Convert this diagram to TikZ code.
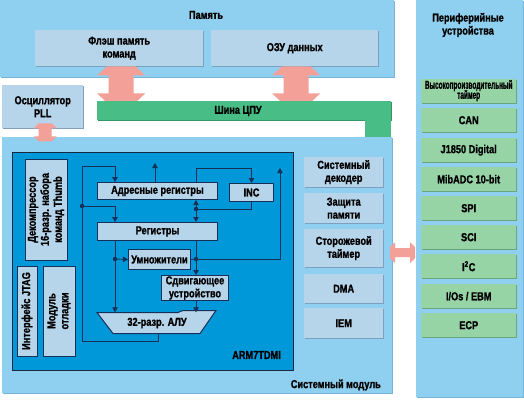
\documentclass[tikz,border=0pt]{standalone}
\usepackage{fontspec}
\setmainfont{Liberation Sans}[FakeStretch=0.8,BoldFeatures={FakeBold=1.2}]
\usetikzlibrary{arrows.meta,calc,shadows}
\definecolor{panelc}{RGB}{143,207,239}
\definecolor{panelsh}{RGB}{120,180,215}
\definecolor{boxc}{RGB}{183,213,234}
\definecolor{boxsh}{RGB}{125,160,190}
\definecolor{greenc}{RGB}{150,212,166}
\definecolor{greensh}{RGB}{105,165,125}
\definecolor{busc}{RGB}{72,190,134}
\definecolor{bussh}{RGB}{50,150,105}
\definecolor{corec}{RGB}{0,152,216}
\definecolor{coreb}{RGB}{25,40,65}
\definecolor{linec}{RGB}{22,48,88}
\definecolor{pinkc}{RGB}{243,160,152}
\newcommand\lblfont{\bfseries\fontsize{11.5}{13}\selectfont}
\newcommand\vblk[6]{\fill[pinkc] let \p1=(#1), \p2=(#2) in
 (\x1-#3,\y1) -- (\x1+#3,\y1) -- (\x1+#4,\y1-#6) -- (\x1+#5,\y1-#6) --
 (\x1+#5,\y2+#6) -- (\x1+#4,\y2+#6) -- (\x1+#3,\y2) -- (\x1-#3,\y2) --
 (\x1-#4,\y2+#6) -- (\x1-#5,\y2+#6) -- (\x1-#5,\y1-#6) -- (\x1-#4,\y1-#6) -- cycle;}
\newcommand\hblk[6]{\fill[pinkc] let \p1=(#1), \p2=(#2) in
 (\x1,\y1+#3) -- (\x1+#6,\y1+#4) -- (\x1+#6,\y1+#5) -- (\x2-#6,\y1+#5) --
 (\x2-#6,\y1+#4) -- (\x2,\y1+#3) -- (\x2,\y1-#3) -- (\x2-#6,\y1-#4) --
 (\x2-#6,\y1-#5) -- (\x1+#6,\y1-#5) -- (\x1+#6,\y1-#4) -- (\x1,\y1-#3) -- cycle;}
\begin{document}
\begin{tikzpicture}[x=1pt,y=-1pt,
 panel/.style={fill=panelc, inner sep=0pt, anchor=north west,
   drop shadow={shadow xshift=0.8pt,shadow yshift=-0.8pt,fill=panelsh,opacity=1}},
 lbox/.style={fill=boxc, inner sep=0pt, align=center, font=\lblfont, anchor=north west,
   drop shadow={shadow xshift=1pt,shadow yshift=-1pt,fill=boxsh,opacity=1}},
 cbox/.style={fill=boxc, draw=linec, line width=1pt, inner sep=0pt, align=center, font=\lblfont},
 gbox/.style={fill=greenc, inner sep=0pt, align=center, font=\lblfont, anchor=north west,
   minimum width=95pt, minimum height=24pt,
   drop shadow={shadow xshift=1pt,shadow yshift=-1pt,fill=greensh,opacity=1}},
 txt/.style={font=\lblfont, align=center, inner sep=0pt},
 conn/.style={draw=linec, line width=0.8pt},
 arr/.style={-{Triangle[length=5pt,width=5.5pt]}},
 dotc/.style={fill=linec}
]
\useasboundingbox (0,0) rectangle (524,400);
\fill[white] (0,0) rectangle (524,400);

% panels
\node[panel, minimum width=394pt, minimum height=77pt] (mem) at (0,0) {};
\node[panel, minimum width=107pt, minimum height=397pt] (periph) at (416,0) {};
\node[panel, minimum width=390pt, minimum height=256pt] (sysmod) at (2,137) {};
\node[lbox, minimum width=81pt, minimum height=43pt] (osc) at (2,85) {Осциллятор\\PLL};

\node[txt] (memlbl) at (206,15) {Память};
\node[txt] (perlbl) at (468,25) {Периферийные\\устройства};
\node[txt, anchor=east] (syslbl) at (381,385) {Системный модуль};

% memory boxes
\node[lbox, minimum width=168pt, minimum height=36pt] (flash) at (35,30) {Флэш память\\команд};
\node[lbox, minimum width=167pt, minimum height=36pt] (ozu) at (211,30) {ОЗУ данных};

% block arrows memory <-> bus
\coordinate (fa1) at ([xshift=2pt]flash.south);
\coordinate (fa2) at ([xshift=2pt,yshift=-36pt]flash.south);
\coordinate (oa1) at ([xshift=1.5pt]ozu.south);
\coordinate (oa2) at ([xshift=1.5pt,yshift=-36pt]ozu.south);
\vblk{fa1}{fa2}{14.5pt}{24pt}{12.5pt}{9pt}
\vblk{oa1}{oa2}{14.5pt}{24pt}{12.5pt}{9pt}

% bus
\node[fill=busc, inner sep=0pt, anchor=north west, minimum width=294pt, minimum height=19pt,
  drop shadow={shadow xshift=0.8pt,shadow yshift=-0.8pt,fill=bussh,opacity=1}] (bus) at (97,101) {};
\fill[busc] ([xshift=-26pt]bus.south east) rectangle (bus.south east |- sysmod.north);
\node[txt] (buslbl) at (238,111) {Шина ЦПУ};

% oscillator arrow
\coordinate (sa1) at ([xshift=2.5pt,yshift=5pt]osc.south);
\coordinate (sa2) at ([xshift=2.5pt,yshift=-13pt]osc.south);
\vblk{sa1}{sa2}{6.5pt}{11.5pt}{6.5pt}{5pt}

% peripheral boxes
\node[gbox] (hpt) at (421,79) {\scalebox{0.7}[1]{\begin{tabular}{@{}c@{}}Высокопроизводительный\\[-3pt]таймер\end{tabular}}};
\node[gbox] (can) at (421,108) {CAN};
\node[gbox] (j1850) at (421,138) {J1850 Digital};
\node[gbox] (mib) at (421,167) {MibADC 10-bit};
\node[gbox] (spi) at (421,196) {SPI};
\node[gbox] (sci) at (421,225) {SCI};
\node[gbox] (i2c) at (421,254) {I\textsuperscript{2}C};
\node[gbox] (ios) at (421,284) {I/Os / EBM};
\node[gbox] (ecp) at (421,313) {ECP};

% system module boxes
\node[lbox, minimum width=79pt, minimum height=30pt] (sdec) at (304,157) {Системный\\декодер};
\node[lbox, minimum width=79pt, minimum height=30pt] (mprot) at (304,193) {Защита\\памяти};
\node[lbox, minimum width=79pt, minimum height=38pt] (wdt) at (304,229) {Сторожевой\\таймер};
\node[lbox, minimum width=79pt, minimum height=29pt] (dma) at (304,274) {DMA};
\node[lbox, minimum width=79pt, minimum height=30pt] (iem) at (304,308) {IEM};

% horizontal arrow
\coordinate (ha1) at (390,252.5);
\coordinate (ha2) at (415,252.5);
\hblk{ha1}{ha2}{5.5pt}{10.5pt}{4.5pt}{5pt}

% ARM core
\node[fill=corec, draw=coreb, line width=1.2pt, inner sep=0pt, anchor=north west,
  minimum width=281pt, minimum height=218pt] (core) at (12,152) {};
\node[txt, anchor=east] (armlbl) at (281,355) {ARM7TDMI};

\node[cbox, rotate=90, minimum width=101pt, minimum height=42pt] (decomp) at (46,209.5) {Декомпрессор\\16-разр. набора\\команд Thumb};
\node[cbox, rotate=90, minimum width=90pt, minimum height=20pt] (jtag) at (27,311) {Интерфейс JTAG};
\node[cbox, rotate=90, minimum width=90pt, minimum height=32pt] (dbg) at (59,311) {Модуль\\отладки};

\node[cbox, anchor=north west, minimum width=120pt, minimum height=17pt] (areg) at (97,182) {Адресные регистры};
\node[cbox, anchor=north west, minimum width=44pt, minimum height=18pt] (inc) at (229,183) {INC};
\node[cbox, anchor=north west, minimum width=120pt, minimum height=18pt] (reg) at (97,222) {Регистры};
\node[cbox, anchor=north west, minimum width=62pt, minimum height=20pt] (mul) at (128,249) {Умножители};
\node[cbox, anchor=north west, minimum width=67pt, minimum height=25pt] (shf) at (161,275) {Сдвигающее\\устройство};

\filldraw[fill=boxc, draw=linec, line width=1pt] (97,312.5) -- (178,312.5) -- (183,310.5) -- (216,310.5) -- (200,333.5) -- (113,333.5) -- cycle;
\node[txt, minimum width=100pt, minimum height=21pt] (alu) at (157,323) {32-разр. АЛУ};

% route coordinates
\coordinate (xL) at (82,0);
\coordinate (xA) at (115,0);
\coordinate (xU) at (155,0);
\coordinate (xO) at (158,0);
\coordinate (xR) at (196,0);
\coordinate (xF) at (280,0);
\coordinate (yT) at (0,166);
\coordinate (yI) at (0,168);
\coordinate (yU) at (0,163);
\coordinate (yB) at (0,341);
\coordinate (d1) at (82,206);
\coordinate (d2) at (196,209);
\coordinate (d3) at (115,259);
\coordinate (d4) at (196,259);

% connectors
\draw[conn,arr] (xO |- alu.south) -- (xO |- yB) -- (xL |- yB) -- (xL |- yT) -- (xA |- yT) -- (xA |- areg.north);
\draw[conn,arr] (d1) -- (xA |- d1) -- (xA |- reg.north);
\draw[conn,arr] (xU |- areg.north) -- (xU |- yU);
\draw[conn,arr] (xR |- areg.north) -- (xR |- yI) -- (inc.north |- yI) -- (inc.north);
\draw[conn] (inc.south) -- (inc.south |- d2) -- (d2);
\draw[conn,arr] (d2) -- (xR |- areg.south);
\draw[conn,arr] (d2) -- (xR |- reg.north);
\draw[conn,arr] (xA |- reg.south) -- (xA |- alu.north);
\draw[conn,arr] (d3) -- (mul.west);
\draw[conn] (xR |- reg.south) -- (d4);
\draw[conn] (mul.east) -- (d4);
\draw[conn,arr] (d4) -- (xR |- shf.north);
\draw[conn,arr] (d4) -- (xF |- d4) -- (xF |- yI);
\draw[conn,arr] (xR |- shf.south) -- (xR |- alu.north);
\foreach \d in {d1,d2,d3,d4} \fill[dotc] (\d) circle (2.2);
\end{tikzpicture}
\end{document}
